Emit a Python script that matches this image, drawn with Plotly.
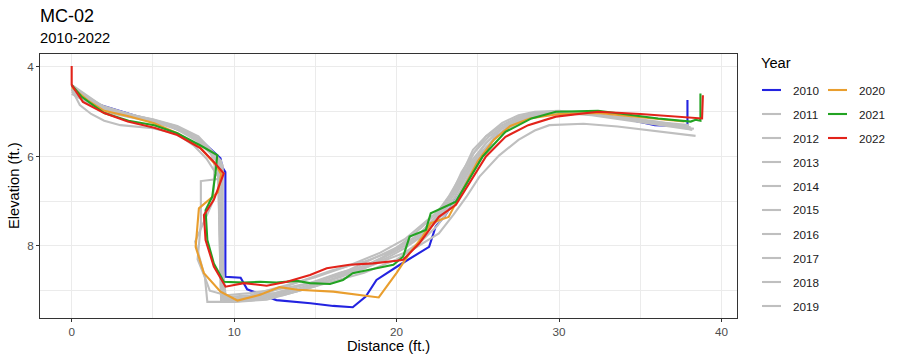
import plotly.graph_objects as go

years = [2010, 2011, 2012, 2013, 2014, 2015, 2016, 2017, 2018, 2019, 2020, 2021, 2022]
colors = {2010: "#2323e0", 2020: "#e99e2e", 2021: "#22a322", 2022: "#e2231a"}
grey = "#bfbfbf"

x2010 = [0, 0.7, 1.4, 2.4, 4, 6.1, 7.94, 9.16, 9.26, 9.46, 9.46, 10.4, 10.8, 12.6, 14.7, 16.1, 17.3, 18.1, 18.76, 20.2, 22.0, 22.4, 23.0, 24, 25, 26, 27.3, 28.5, 30, 32, 34, 35.9, 37.9, 37.9]
y2010 = [4.42, 4.6, 4.81, 4.92, 5.1, 5.33, 5.63, 6.04, 6.23, 6.35, 8.69, 8.71, 8.97, 9.21, 9.28, 9.34, 9.37, 9.13, 8.76, 8.42, 8.02, 7.57, 7.31, 6.75, 6.15, 5.6, 5.22, 5.1, 5.02, 5.05, 5.15, 5.3, 5.33, 4.74]

x2011 = [0, 0.8, 2, 3.5, 5, 6.5, 7.6, 8.4, 9.0, 9.1, 9.2, 10.5, 12, 14, 16, 18, 20, 21.5, 22.5, 23.5, 24.5, 25.5, 26.5, 27.5, 28.5, 30, 32, 34, 36, 38]
y2011 = [4.45, 4.7, 4.95, 5.1, 5.2, 5.35, 5.6, 5.85, 6.1, 7.5, 9.2, 9.2, 9.1, 8.95, 8.7, 8.45, 8.1, 7.8, 7.3, 6.8, 6.2, 5.8, 5.45, 5.25, 5.1, 5.02, 5.05, 5.15, 5.25, 5.35]

x2012 = [0, 0.5, 1.2, 2, 3, 5, 6.5, 7.5, 8.3, 9.1, 7.95, 7.95, 7.75, 8.2, 8.35, 10, 12, 14, 16, 18, 20, 22, 22.6, 23.5, 24.3, 25.1, 26.3, 27.5, 28.5, 29.4, 31.5, 33.6, 36, 38.4]
y2012 = [4.5, 4.85, 5.05, 5.2, 5.3, 5.37, 5.5, 5.75, 6.05, 6.5, 6.55, 7.5, 8.3, 8.7, 9.25, 9.25, 9.15, 9.0, 8.8, 8.6, 8.3, 7.85, 7.72, 7.3, 6.9, 6.45, 5.98, 5.63, 5.42, 5.3, 5.27, 5.33, 5.43, 5.54]

x2013 = [0, 1, 2, 3.5, 5, 6.5, 7.8, 8.8, 9.3, 9.3, 9.5, 11, 13, 15, 17, 19, 20.5, 21.5, 22.5, 23.2, 24, 24.7, 25.5, 26.5, 27.5, 28.5, 30, 32, 34, 36, 38]
y2013 = [4.5, 4.7, 4.88, 5.05, 5.18, 5.35, 5.6, 5.95, 6.2, 8.5, 9.2, 9.22, 9.1, 8.9, 8.6, 8.3, 7.9, 7.6, 7.25, 6.9, 6.4, 5.85, 5.55, 5.3, 5.12, 5.03, 5.0, 5.05, 5.15, 5.25, 5.35]

x2014 = [0, 0.8, 2, 3.5, 5, 6.5, 7.8, 8.9, 9.2, 9.3, 10.2, 12, 14, 16, 18, 19.5, 20.5, 21.5, 22.5, 23.5, 24.5, 25.5, 26.5, 27.5, 28.5, 30, 32, 34, 36, 38.2]
y2014 = [4.55, 4.75, 4.95, 5.08, 5.2, 5.38, 5.62, 6.0, 6.3, 9.1, 9.2, 9.05, 8.8, 8.55, 8.35, 8.15, 7.95, 7.7, 7.3, 6.75, 6.15, 5.7, 5.38, 5.18, 5.06, 5.02, 5.08, 5.18, 5.28, 5.4]

x2015 = [0, 1, 2, 3.5, 5, 6.5, 7.6, 8.5, 8.8, 8.7, 7.6, 8.2, 8.5, 9.5, 11, 13, 15, 17, 19, 20.5, 21.5, 22.5, 23.5, 24.5, 25.5, 26.5, 27.5, 29, 31, 33, 35, 38]
y2015 = [4.4, 4.65, 4.9, 5.05, 5.18, 5.33, 5.55, 5.85, 6.2, 7.0, 7.9, 8.7, 9.0, 9.1, 9.05, 8.95, 8.8, 8.55, 8.2, 7.95, 7.75, 7.45, 6.95, 6.3, 5.8, 5.45, 5.22, 5.05, 5.02, 5.1, 5.2, 5.3]

x2016 = [0, 1, 2, 3.5, 5, 6.5, 7.7, 8.6, 9.1, 9.15, 9.3, 11, 13, 15, 17, 19, 20.5, 21.5, 22.3, 23, 23.9, 24.7, 25.5, 26.5, 27.5, 28.5, 30, 32, 34, 36, 38.3]
y2016 = [4.6, 4.8, 5.0, 5.12, 5.22, 5.4, 5.65, 5.95, 6.15, 8.0, 9.15, 9.1, 8.9, 8.7, 8.45, 8.15, 7.85, 7.55, 7.3, 7.05, 6.6, 5.95, 5.55, 5.25, 5.08, 5.0, 4.98, 5.05, 5.15, 5.25, 5.38]

x2017 = [0, 0.8, 2, 3.5, 5, 6.5, 7.8, 8.7, 9.2, 9.25, 9.35, 11, 13, 15, 16.5, 18, 19.5, 20.5, 21.5, 22.5, 23.5, 24.3, 25, 26, 27, 28, 29.5, 31.5, 34, 36, 38.1]
y2017 = [4.5, 4.72, 4.92, 5.06, 5.17, 5.32, 5.55, 5.9, 6.1, 7.0, 9.2, 9.2, 9.05, 8.85, 8.7, 8.5, 8.3, 8.15, 7.9, 7.55, 7.05, 6.5, 6.05, 5.6, 5.3, 5.12, 5.03, 5.05, 5.12, 5.22, 5.35]

x2018 = [0, 1, 2, 3.5, 5, 6.5, 7.6, 8.5, 9.0, 9.1, 9.2, 10, 12, 14, 16, 18, 19.5, 20.5, 21.5, 22.5, 23.3, 24, 24.8, 25.7, 26.7, 27.7, 29, 31, 33, 35, 37, 38.2]
y2018 = [4.45, 4.68, 4.9, 5.05, 5.2, 5.36, 5.58, 5.9, 6.1, 7.8, 9.25, 9.25, 9.2, 9.0, 8.75, 8.5, 8.25, 8.05, 7.8, 7.4, 6.9, 6.35, 5.9, 5.55, 5.3, 5.12, 5.02, 5.02, 5.1, 5.2, 5.3, 5.4]

x2019 = [0, 1, 2, 3.5, 5, 6.5, 7.7, 8.6, 9.0, 9.1, 9.2, 10.5, 12.5, 14.5, 16.5, 18.5, 20, 21, 22, 23, 23.8, 24.6, 25.4, 26.3, 27.3, 28.3, 29.5, 31.5, 34, 36, 38]
y2019 = [4.5, 4.72, 4.95, 5.1, 5.2, 5.35, 5.6, 5.95, 6.15, 7.2, 9.2, 9.15, 9.05, 8.85, 8.6, 8.4, 8.1, 7.85, 7.55, 7.15, 6.7, 6.2, 5.75, 5.4, 5.18, 5.06, 5.0, 5.03, 5.15, 5.25, 5.35]

x2020 = [0, 1, 2, 3.5, 5.08, 6.5, 7.9, 8.9, 9.2, 9.0, 7.83, 7.63, 8.14, 9.16, 10.2, 11.6, 12.8, 13.9, 16.1, 18.9, 20.0, 20.8, 21.6, 22.1, 23.2, 24, 25, 26, 27, 28.2, 30, 32.4, 35.9, 37.7]
y2020 = [4.45, 4.75, 4.98, 5.1, 5.26, 5.48, 5.8, 6.2, 6.4, 6.8, 7.16, 8.02, 8.61, 9.02, 9.22, 9.09, 8.92, 8.98, 9.02, 9.15, 8.6, 8.16, 7.79, 7.49, 7.35, 6.8, 6.1, 5.62, 5.32, 5.15, 5.05, 5.03, 5.15, 5.22]

x2021 = [0, 0.59, 2.0, 3.5, 5.08, 6.5, 7.9, 8.96, 8.85, 8.65, 8.24, 8.35, 8.75, 9.36, 10.6, 11.6, 12.6, 13.86, 14.67, 15.9, 16.7, 17.3, 18.76, 19.8, 20.4, 20.8, 21.8, 22.1, 23.65, 25.3, 26.7, 28.3, 29.8, 31.4, 32.4, 36.1, 38.1, 38.4, 38.7, 38.7]
y2021 = [4.4, 4.66, 5.03, 5.2, 5.3, 5.48, 5.75, 5.97, 6.38, 6.9, 7.2, 7.87, 8.39, 8.8, 8.82, 8.80, 8.82, 8.78, 8.83, 8.85, 8.76, 8.61, 8.5, 8.42, 8.24, 7.79, 7.64, 7.27, 7.01, 6.0, 5.45, 5.15, 5.0, 4.98, 4.98, 5.15, 5.22, 5.18, 5.2, 4.59]

x2022 = [0, 0, 0.69, 2.0, 3.45, 5.08, 6.5, 7.94, 8.75, 9.36, 8.75, 8.14, 8.24, 8.75, 9.47, 10.6, 12.0, 13.25, 14.67, 15.7, 17.1, 18.55, 20.0, 20.4, 21.4, 22.6, 23.65, 25.5, 26.7, 28.1, 29.8, 32.4, 35, 37.7, 38.8, 38.85]
y2022 = [3.98, 4.40, 4.78, 5.03, 5.22, 5.36, 5.52, 5.82, 6.12, 6.38, 6.97, 7.31, 7.87, 8.46, 8.91, 8.83, 8.89, 8.80, 8.65, 8.50, 8.42, 8.39, 8.33, 8.31, 7.94, 7.35, 7.08, 6.0, 5.56, 5.3, 5.11, 5.0, 5.05, 5.11, 5.15, 4.63]

series = {
    2010: (x2010, y2010), 2011: (x2011, y2011), 2012: (x2012, y2012),
    2013: (x2013, y2013), 2014: (x2014, y2014), 2015: (x2015, y2015),
    2016: (x2016, y2016), 2017: (x2017, y2017), 2018: (x2018, y2018),
    2019: (x2019, y2019), 2020: (x2020, y2020), 2021: (x2021, y2021),
    2022: (x2022, y2022),
}

x_ticks = [0, 10, 20, 30, 40]
y_ticks = [4, 6, 8]

FONT = "Arial, Liberation Sans, sans-serif"
W, H = 900, 363
ML, MR, MT, MB = 40, 163, 54, 45
PW, PH = W - ML - MR, H - MT - MB


def px(x):
    return (x - ML) / PW


def py(y):
    return (H - MB - y) / PH


fig = go.Figure()
for yr in years:
    xs, ys = series[yr]
    fig.add_trace(go.Scatter(
        x=xs, y=ys, mode="lines", name=str(yr),
        line=dict(color=colors.get(yr, grey), width=2.1),
        showlegend=False, hoverinfo="skip",
    ))

annotations = [
    dict(text="MC-02", x=px(38), y=py(15.5), xref="paper", yref="paper",
         xanchor="left", yanchor="middle", showarrow=False,
         font=dict(family=FONT, size=18, color="black")),
    dict(text="2010-2022", x=px(38), y=py(37.5), xref="paper", yref="paper",
         xanchor="left", yanchor="middle", showarrow=False,
         font=dict(family=FONT, size=14.7, color="black")),
    dict(text="Distance (ft.)", x=0.5, y=py(346), xref="paper", yref="paper",
         xanchor="center", yanchor="middle", showarrow=False,
         font=dict(family=FONT, size=14.7, color="black")),
    dict(text="Elevation (ft.)", x=px(14), y=py(186), xref="paper", yref="paper",
         xanchor="center", yanchor="middle", showarrow=False, textangle=-90,
         font=dict(family=FONT, size=14.7, color="black")),
    dict(text="Year", x=px(759), y=py(63), xref="paper", yref="paper",
         xanchor="left", yanchor="middle", showarrow=False,
         font=dict(family=FONT, size=14.7, color="black")),
]
shapes = []
for i, yr in enumerate(years):
    col = 0 if i < 10 else 1
    row = i if i < 10 else i - 10
    ypix = 90 + 24 * row
    x0 = 762 if col == 0 else 828
    shapes.append(dict(type="line", xref="paper", yref="paper",
                       x0=px(x0), x1=px(x0 + 19), y0=py(ypix), y1=py(ypix),
                       line=dict(color=colors.get(yr, grey), width=2.1)))
    annotations.append(dict(text=str(yr), x=px(x0 + 29), y=py(ypix), xref="paper", yref="paper",
                            xanchor="left", yanchor="middle", showarrow=False,
                            font=dict(family=FONT, size=11.7, color="#1a1a1a")))

axis_common = dict(
    showline=True, mirror=True, linecolor="#333333", linewidth=1,
    showgrid=True, gridcolor="#ebebeb", gridwidth=1,
    ticks="outside", ticklen=3, tickcolor="#333333", tickwidth=1,
    tickfont=dict(family=FONT, size=11.7, color="#4d4d4d"),
    zeroline=False,
)
fig.update_layout(
    width=W, height=H,
    margin=dict(l=ML, r=MR, t=MT, b=MB, autoexpand=False),
    paper_bgcolor="white", plot_bgcolor="white",
    showlegend=False,
    annotations=annotations, shapes=shapes,
    xaxis=dict(range=[-1.95, 40.95], tickvals=x_ticks, ticktext=[str(v) for v in x_ticks],
               minor=dict(showgrid=True, gridcolor="#ebebeb", gridwidth=0.5, tickvals=[5, 15, 25, 35]),
               **axis_common),
    yaxis=dict(range=[9.61, 3.71], tickvals=y_ticks, ticktext=[str(v) for v in y_ticks],
               minor=dict(showgrid=True, gridcolor="#ebebeb", gridwidth=0.5, tickvals=[5, 7, 9]),
               **axis_common),
)

fig.write_html("out.html", config={"displayModeBar": False},
               post_script="document.body.style.margin='0';document.body.style.overflow='hidden';")
